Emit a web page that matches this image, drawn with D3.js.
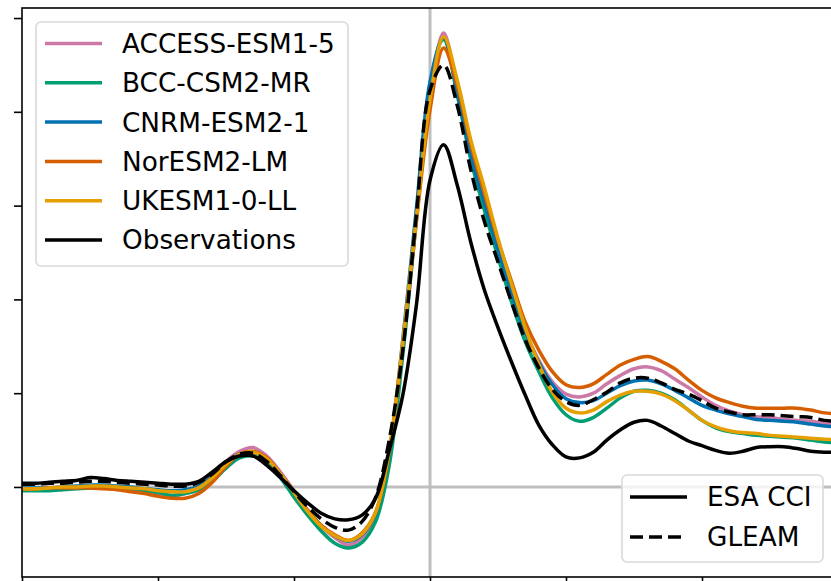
<!DOCTYPE html>
<html>
<head>
<meta charset="utf-8">
<script src="https://cdnjs.cloudflare.com/ajax/libs/d3/7.8.5/d3.min.js"></script>
<style>
  body { margin: 0; background: #fff; }
  svg { display: block; font-family: "DejaVu Sans", sans-serif; }
</style>
</head>
<body>
<div id="chart"></div>
<script>
// lags, -30 .. 30
var lags = d3.range(-30, 31);

var access = [-0.02,-0.02,-0.01,-0.01,0.00,0.00,0.00,-0.01,-0.03,-0.05,-0.07,-0.09,-0.07,-0.01,0.11,0.27,0.38,0.42,0.33,0.16,
  -0.04,-0.25,-0.42,-0.54,-0.62,-0.54,-0.30,0.34,1.51,2.87,4.13,4.84,4.25,3.59,3.06,2.55,2.09,1.67,1.35,1.12,
  0.99,0.96,1.00,1.10,1.19,1.26,1.28,1.24,1.15,1.06,0.96,0.87,0.81,0.77,0.75,0.74,0.72,0.71,0.70,0.68,0.67];
var bcc = [-0.04,-0.04,-0.04,-0.03,-0.02,-0.01,-0.01,-0.02,-0.03,-0.04,-0.06,-0.09,-0.07,-0.03,0.06,0.20,0.31,0.33,0.26,0.10,
  -0.11,-0.30,-0.47,-0.60,-0.65,-0.59,-0.37,0.23,1.41,2.85,4.29,4.77,4.18,3.49,2.95,2.45,1.97,1.55,1.23,0.95,
  0.77,0.70,0.74,0.84,0.95,1.02,1.03,1.00,0.93,0.82,0.71,0.63,0.59,0.57,0.55,0.54,0.53,0.52,0.50,0.48,0.47];
var cnrm = [-0.01,-0.01,-0.01,0.00,0.01,0.02,0.02,0.01,0.00,-0.02,-0.03,-0.04,-0.03,0.01,0.12,0.26,0.35,0.37,0.30,0.14,
  -0.05,-0.25,-0.41,-0.52,-0.58,-0.51,-0.28,0.37,1.57,2.97,4.32,4.79,4.21,3.54,3.03,2.53,2.07,1.65,1.33,1.09,
  0.94,0.90,0.92,1.00,1.08,1.13,1.14,1.10,1.03,0.95,0.87,0.82,0.78,0.75,0.72,0.71,0.70,0.69,0.67,0.65,0.64];
var noresm = [-0.02,-0.02,-0.01,-0.01,-0.01,-0.01,-0.02,-0.03,-0.05,-0.07,-0.10,-0.12,-0.12,-0.07,0.05,0.22,0.35,0.38,0.31,0.14,
  -0.05,-0.25,-0.41,-0.51,-0.57,-0.49,-0.27,0.37,1.51,2.83,4.02,4.68,4.28,3.65,3.13,2.63,2.19,1.76,1.46,1.23,
  1.09,1.06,1.10,1.20,1.30,1.36,1.39,1.34,1.26,1.14,1.03,0.95,0.90,0.86,0.84,0.84,0.84,0.84,0.82,0.79,0.78];
var ukesm = [-0.02,-0.02,-0.01,0.00,0.00,0.01,0.01,0.00,-0.01,-0.02,-0.04,-0.05,-0.05,-0.01,0.10,0.24,0.35,0.37,0.30,0.14,
  -0.06,-0.26,-0.42,-0.52,-0.57,-0.50,-0.27,0.39,1.54,2.87,4.13,4.80,4.34,3.70,3.19,2.65,2.16,1.70,1.31,1.01,
  0.84,0.79,0.82,0.91,0.98,1.02,1.02,0.99,0.92,0.82,0.71,0.64,0.60,0.58,0.57,0.55,0.54,0.53,0.52,0.51,0.50];
var esacci = [0.04,0.04,0.05,0.06,0.07,0.10,0.09,0.07,0.06,0.05,0.04,0.03,0.03,0.06,0.16,0.27,0.33,0.33,0.23,0.10,
  -0.04,-0.17,-0.28,-0.34,-0.35,-0.30,-0.12,0.39,0.98,1.94,3.27,3.65,3.22,2.61,2.10,1.70,1.33,0.98,0.66,0.45,
  0.32,0.31,0.37,0.50,0.61,0.69,0.71,0.65,0.57,0.49,0.44,0.39,0.36,0.38,0.42,0.43,0.43,0.41,0.38,0.37,0.37];
var gleam = [0.03,0.03,0.04,0.04,0.05,0.06,0.06,0.05,0.04,0.03,0.02,0.01,0.01,0.05,0.14,0.27,0.35,0.36,0.27,0.12,
  -0.05,-0.21,-0.34,-0.43,-0.46,-0.37,-0.11,0.50,1.46,2.90,4.23,4.50,4.07,3.38,2.83,2.40,1.97,1.57,1.27,1.04,
  0.91,0.87,0.93,1.01,1.11,1.16,1.16,1.11,1.04,0.99,0.92,0.84,0.80,0.77,0.77,0.77,0.76,0.75,0.74,0.71,0.70];

var models = [
  {name: "ACCESS-ESM1-5", values: access, color: "#CC79A7"},
  {name: "BCC-CSM2-MR", values: bcc, color: "#009E73"},
  {name: "CNRM-ESM2-1", values: cnrm, color: "#0072B2"},
  {name: "NorESM2-LM", values: noresm, color: "#D55E00"},
  {name: "UKESM1-0-LL", values: ukesm, color: "#E69F00"}
];
var obs = [
  {name: "ESA CCI", values: esacci, dash: null},
  {name: "GLEAM", values: gleam, dash: "13,6"}
];
var xTicks = [-30, -20, -10, 0, 10, 20];
var yTicks = [0, 1, 2, 3, 4, 5];

var W = 831, H = 581;
var margin = {left: 22, top: 8, right: 838, bottom: 577};

var svg = d3.select("#chart").append("svg")
    .attr("width", W)
    .attr("height", H);

var x = d3.scaleLinear().domain([-30, 30]).range([margin.left, margin.right]);
var y = d3.scaleLinear().domain([-0.96, 5.107]).range([margin.bottom, margin.top]);

svg.append("clipPath").attr("id", "clip")
  .append("rect")
    .attr("x", margin.left).attr("y", margin.top)
    .attr("width", margin.right - margin.left).attr("height", margin.bottom - margin.top);

var plot = svg.append("g").attr("clip-path", "url(#clip)");

// zero lines
plot.append("line")
    .attr("x1", margin.left).attr("x2", margin.right)
    .attr("y1", y(0)).attr("y2", y(0))
    .attr("stroke", "#bfbfbf").attr("stroke-width", 3);
plot.append("line")
    .attr("x1", x(0)).attr("x2", x(0))
    .attr("y1", margin.top).attr("y2", margin.bottom)
    .attr("stroke", "#bfbfbf").attr("stroke-width", 3);

var line = d3.line()
    .curve(d3.curveCatmullRom.alpha(0.5))
    .x(function(d, i) { return x(lags[i]); })
    .y(function(d) { return y(d); });

// model lines
plot.selectAll(".model")
  .data(models)
  .enter()
  .append("path")
    .attr("class", "model")
    .attr("d", function(d) { return line(d.values); })
    .attr("fill", "none")
    .attr("stroke", function(d) { return d.color; })
    .attr("stroke-width", 3.5)
    .attr("stroke-linejoin", "round");

// observations
plot.selectAll(".obs")
  .data(obs)
  .enter()
  .append("path")
    .attr("class", "obs")
    .attr("d", function(d) { return line(d.values); })
    .attr("fill", "none")
    .attr("stroke", "#000")
    .attr("stroke-width", 3.5)
    .attr("stroke-dasharray", function(d) { return d.dash; })
    .attr("stroke-linejoin", "round");

// axes
svg.append("g")
    .attr("transform", "translate(" + margin.left + ",0)")
    .call(d3.axisLeft(y).tickValues(yTicks).tickFormat("").tickSize(8).tickSizeOuter(0))
    .call(function(g) { g.select(".domain").remove(); })
    .selectAll("line").attr("stroke-width", 1.6);
svg.append("g")
    .attr("transform", "translate(0," + margin.bottom + ")")
    .call(d3.axisBottom(x).tickValues(xTicks).tickFormat("").tickSize(8).tickSizeOuter(0))
    .call(function(g) { g.select(".domain").remove(); })
    .selectAll("line").attr("stroke-width", 1.6);

svg.append("rect")
    .attr("x", margin.left).attr("y", margin.top)
    .attr("width", margin.right - margin.left).attr("height", margin.bottom - margin.top)
    .attr("fill", "none")
    .attr("stroke", "#000")
    .attr("stroke-width", 1.6);

// legend for models
var leg1 = svg.append("g");
leg1.append("rect")
    .attr("x", 36).attr("y", 22)
    .attr("width", 312).attr("height", 244)
    .attr("rx", 5)
    .attr("fill", "#fff").attr("fill-opacity", 0.8)
    .attr("stroke", "#d9d9d9").attr("stroke-width", 1.6);
var items1 = models.concat([{name: "Observations", color: "#000"}]);
items1.forEach(function(d, i) {
  var ly = 43.5 + i * 39.3;
  leg1.append("line")
      .attr("x1", 45).attr("x2", 102)
      .attr("y1", ly).attr("y2", ly)
      .attr("stroke", d.color).attr("stroke-width", 3.5);
  leg1.append("text")
      .attr("x", 122).attr("y", ly)
      .attr("dy", "0.36em")
      .attr("font-size", 26.3)
      .text(d.name);
});

// legend for observation products
var leg2 = svg.append("g");
leg2.append("rect")
    .attr("x", 622).attr("y", 475)
    .attr("width", 201).attr("height", 87)
    .attr("rx", 5)
    .attr("fill", "#fff").attr("fill-opacity", 0.8)
    .attr("stroke", "#d9d9d9").attr("stroke-width", 1.6);
obs.forEach(function(d, i) {
  var ly = 497 + i * 40;
  leg2.append("line")
      .attr("x1", 630).attr("x2", 687)
      .attr("y1", ly).attr("y2", ly)
      .attr("stroke", "#000").attr("stroke-width", 3.5)
      .attr("stroke-dasharray", d.dash);
  leg2.append("text")
      .attr("x", 707).attr("y", ly)
      .attr("dy", "0.36em")
      .attr("font-size", 26.3)
      .text(d.name);
});
</script>
</body>
</html>
